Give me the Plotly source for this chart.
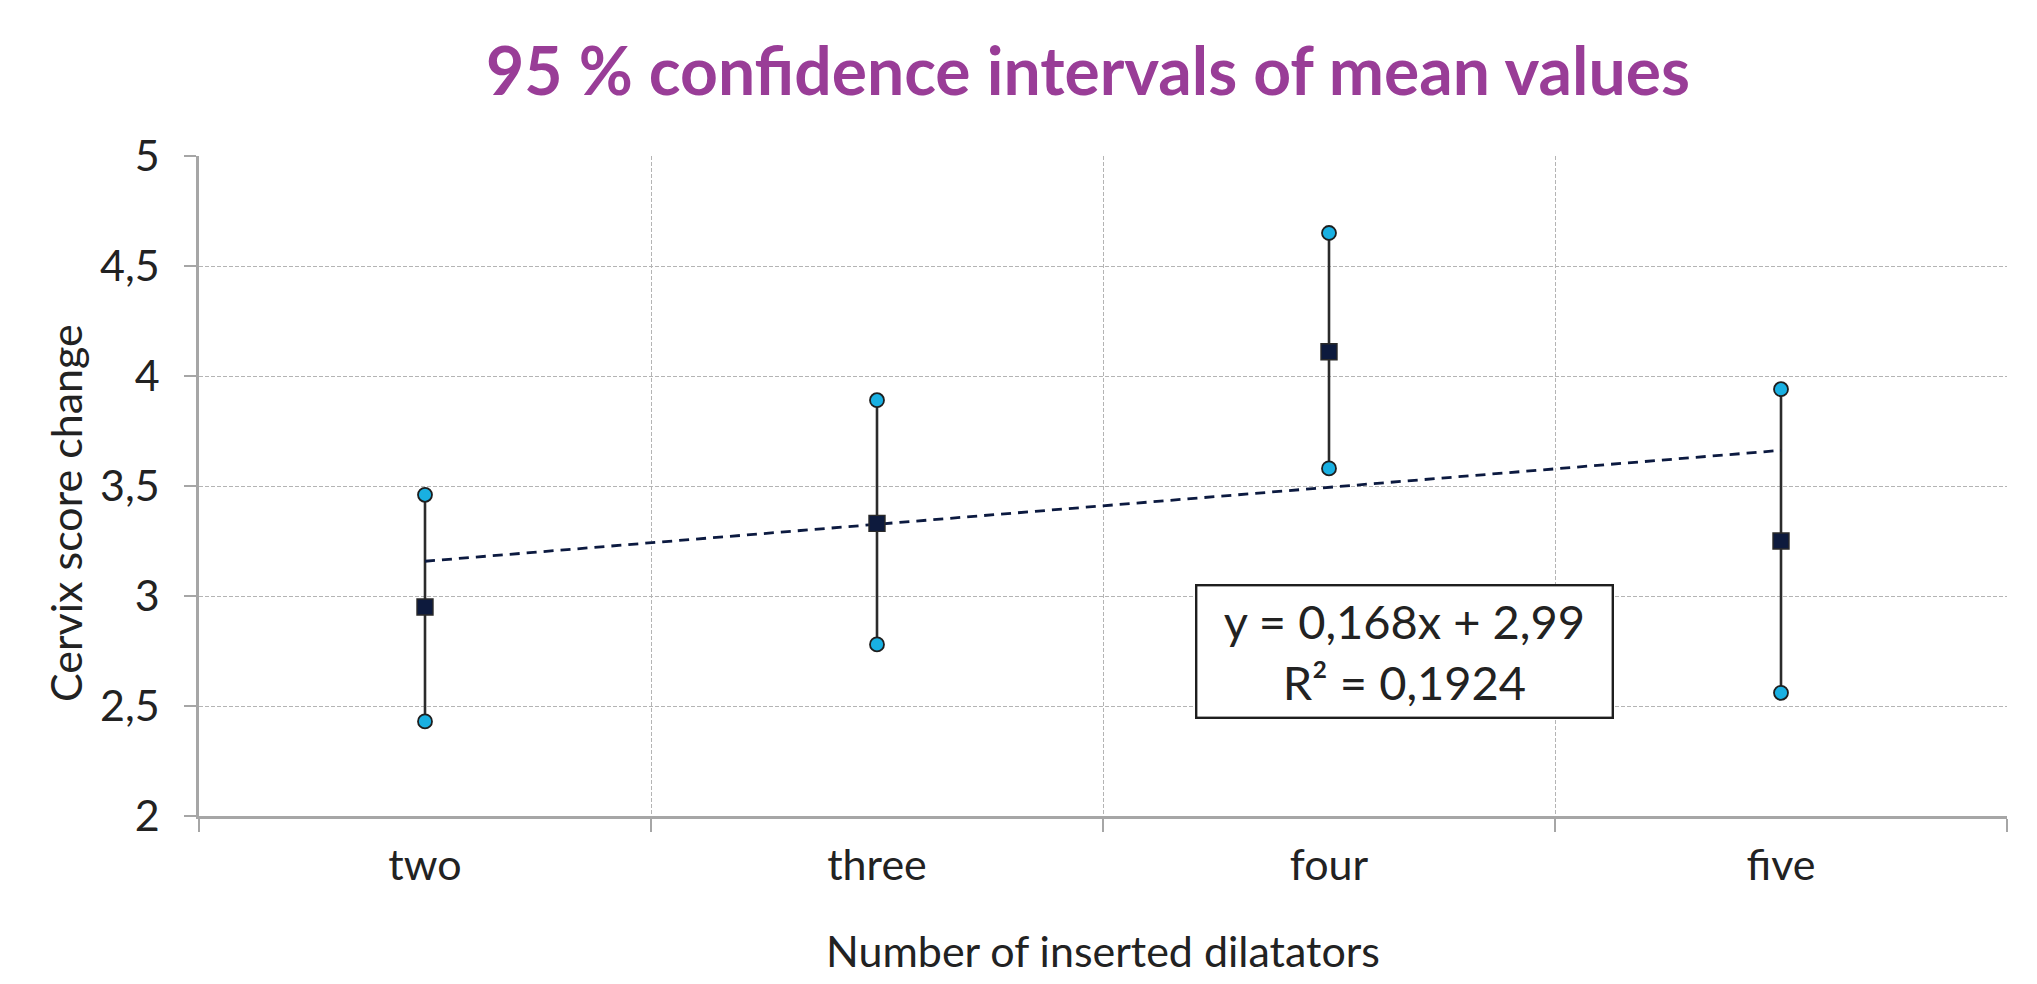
import plotly.graph_objects as go

# ---- data ----
categories = ["two", "three", "four", "five"]
mean_values = [2.95, 3.33, 4.11, 3.25]
upper_ci = [3.46, 3.89, 4.65, 3.94]
lower_ci = [2.43, 2.78, 3.58, 2.56]
trend_slope = 0.168
trend_intercept = 2.99
r_squared = 0.1924
y_ticks = [2, 2.5, 3, 3.5, 4, 4.5, 5]
y_tick_labels = ["2", "2,5", "3", "3,5", "4", "4,5", "5"]

title_text = "95 % confidence intervals of mean values"
x_title = "Number of inserted dilatators"
y_title = "Cervix score change"

# ---- derived ----
xpos = list(range(1, len(categories) + 1))
boundaries = [p - 0.5 for p in xpos] + [xpos[-1] + 0.5]
err_plus = [u - m for u, m in zip(upper_ci, mean_values)]
err_minus = [m - l for m, l in zip(mean_values, lower_ci)]
trend_x = [xpos[0], xpos[-1]]
trend_y = [trend_slope * x + trend_intercept for x in trend_x]

FONT = "Lato"
TXT = "#222222"
GRID = "#b4b4b4"

# page body has an 8px margin, so the figure is sized to fit the window
W, H = 2021, 968
L, R, T, B = 191, 22, 148, 160

fig = go.Figure()

# error bars (vertical CI lines)
fig.add_trace(go.Scatter(
    x=xpos, y=mean_values, mode="markers",
    marker=dict(size=1, opacity=0),
    error_y=dict(type="data", symmetric=False, array=err_plus, arrayminus=err_minus,
                 width=0, thickness=2.6, color="#2b2b2b"),
    showlegend=False, hoverinfo="skip"))

# trendline
fig.add_trace(go.Scatter(
    x=trend_x, y=trend_y, mode="lines",
    line=dict(color="#0c1a40", width=2.8, dash="10px,7px"),
    showlegend=False, hoverinfo="skip"))

# CI end points
fig.add_trace(go.Scatter(
    x=xpos + xpos, y=upper_ci + lower_ci, mode="markers",
    marker=dict(symbol="circle", size=14, color="#19b0e2",
                line=dict(color="#1e1e1e", width=1.8)),
    showlegend=False))

# means
fig.add_trace(go.Scatter(
    x=xpos, y=mean_values, mode="markers",
    marker=dict(symbol="square", size=16, color="#0d1a3d",
                line=dict(color="#2a2a2a", width=1.4)),
    showlegend=False))

eq_text = ("y = " + f"{trend_slope:.3f}".replace(".", ",") + "x + "
           + f"{trend_intercept:.2f}".replace(".", ",")
           + "<br>R² = " + f"{r_squared:.4f}".replace(".", ","))

fig.add_annotation(
    x=3.168, y=2.75, xref="x", yref="y", text=eq_text, showarrow=False,
    font=dict(family=FONT, size=47, color=TXT),
    bgcolor="white", bordercolor="#1e1e1e", borderwidth=2.4,
    width=404, height=120, align="center", borderpad=5)

# y-axis title (offset slightly below the axis centre, as in the reference)
plot_w = W - L - R
fig.add_annotation(
    x=(57 - L) / plot_w, y=0.459, xref="paper", yref="paper",
    text=y_title, textangle=-90, showarrow=False,
    xanchor="center", yanchor="middle",
    font=dict(family=FONT, size=43, color=TXT))

fig.update_layout(
    width=W, height=H,
    margin=dict(l=L, r=R, t=T, b=B, autoexpand=False),
    paper_bgcolor="white", plot_bgcolor="white",
    title=dict(text="<b>" + title_text + "</b>", x=1080 / W, xanchor="center",
               y=1 - 63.5 / H, yanchor="middle", xref="container", yref="container",
               font=dict(family=FONT, size=66, color="#993d97")),
    font=dict(family=FONT, color=TXT),
)

fig.update_xaxes(
    range=[boundaries[0], boundaries[-1]], automargin=False,
    tickmode="array", tickvals=xpos, ticktext=categories,
    ticks="", showgrid=False, zeroline=False,
    showline=True, linecolor="#a6a6a6", linewidth=2.5,
    tickfont=dict(family=FONT, size=43, color=TXT),
    ticklabelstandoff=10,
    minor=dict(tickmode="array", tickvals=boundaries, ticks="outside", ticklen=13,
               tickwidth=1.5, tickcolor="#a6a6a6", showgrid=True,
               gridcolor=GRID, griddash="4px,2px", gridwidth=1.4),
    title=dict(text=x_title, font=dict(family=FONT, size=43, color=TXT), standoff=50),
)

fig.update_yaxes(
    range=[y_ticks[0], y_ticks[-1]], automargin=False,
    tickmode="array", tickvals=y_ticks, ticktext=y_tick_labels,
    ticks="outside", ticklen=12, tickwidth=1.5, tickcolor="#a6a6a6",
    ticklabelstandoff=16,
    showgrid=True, gridcolor=GRID, griddash="4px,2px", gridwidth=1.4,
    zeroline=False, showline=True, linecolor="#a6a6a6", linewidth=2.5,
    tickfont=dict(family=FONT, size=43, color=TXT),
)

fig.write_html("out.html")
